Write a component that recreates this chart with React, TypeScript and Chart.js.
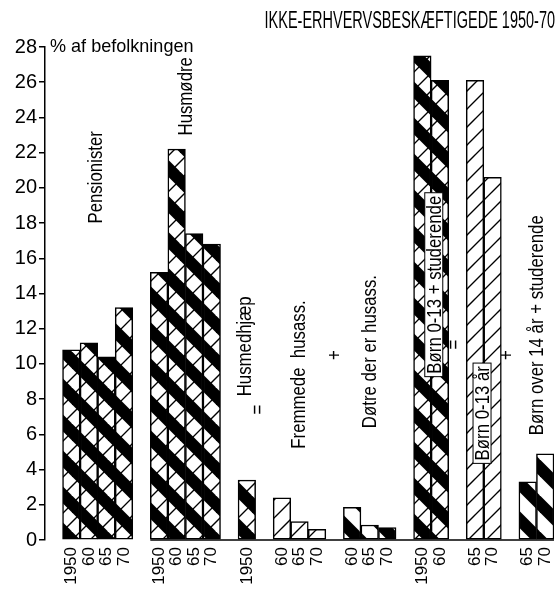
import React, { useEffect, useRef } from "react";
import { Chart, registerables } from "chart.js";

Chart.register(...registerables);

// ---------- data ----------
const TITLE = "IKKE-ERHVERVSBESKÆFTIGEDE 1950-70";
const Y_CAPTION = "% af befolkningen";
const Y_MIN = 0;
const Y_MAX = 28;
const Y_STEP = 2;

const pensionisterYears = ["1950", "60", "65", "70"];
const pensionister = [10.8, 11.2, 10.4, 13.2];

const husmoedreYears = ["1950", "60", "65", "70"];
const husmoedre = [15.2, 22.2, 17.4, 16.8];

const husmedhjaelpYears = ["1950"];
const husmedhjaelp = [3.4];

const fremmedeYears = ["60", "65", "70"];
const fremmede = [2.4, 1.05, 0.6];

const doetreYears = ["60", "65", "70"];
const doetre = [1.85, 0.85, 0.7];

const boernStudYears = ["1950", "60"];
const boernStud = [27.5, 26.1];

const boern013Years = ["65", "70"];
const boern013 = [26.1, 20.6];

const boern14Years = ["65", "70"];
const boern14 = [3.3, 4.9];

type PatternKind = "combo" | "slash" | "band";

const groups: { name: string; years: string[]; values: number[]; pattern: PatternKind }[] = [
  { name: "Pensionister", years: pensionisterYears, values: pensionister, pattern: "combo" },
  { name: "Husmødre", years: husmoedreYears, values: husmoedre, pattern: "combo" },
  { name: "Husmedhjæp", years: husmedhjaelpYears, values: husmedhjaelp, pattern: "combo" },
  { name: "Fremmede husass.", years: fremmedeYears, values: fremmede, pattern: "slash" },
  { name: "Døtre der er husass.", years: doetreYears, values: doetre, pattern: "band" },
  { name: "Børn 0-13 + studerende", years: boernStudYears, values: boernStud, pattern: "combo" },
  { name: "Børn 0-13 år", years: boern013Years, values: boern013, pattern: "slash" },
  { name: "Børn over 14 år + studerende", years: boern14Years, values: boern14, pattern: "band" },
];

// annotation texts placed in data space (x = slot index, y = value)
const notes: { text: string; x: number; y: number; box?: boolean }[] = [
  { text: "Pensionister", x: 2.35, y: 20.6 },
  { text: "Husmødre", x: 7.5, y: 25.2 },
  { text: "Husmedhjæp", x: 10.85, y: 11.0 },
  { text: "=", x: 11.6, y: 7.4 },
  { text: "Fremmede  husass.", x: 13.95, y: 9.4 },
  { text: "+", x: 16.0, y: 10.5 },
  { text: "Døtre der er husass.", x: 17.95, y: 10.7 },
  { text: "Børn 0-13 + studerende", x: 21.65, y: 14.5, box: true },
  { text: "=", x: 22.75, y: 11.1 },
  { text: "Børn 0-13 år", x: 24.4, y: 7.2, box: true },
  { text: "+", x: 25.8, y: 10.5 },
  { text: "Børn over 14 år + studerende", x: 27.5, y: 12.2 },
];

const SANS = "'Liberation Sans', Arial, sans-serif";

function makePattern(kind: PatternKind): CanvasPattern {
  const T = 36;
  const c = document.createElement("canvas");
  c.width = T;
  c.height = T;
  const g = c.getContext("2d")!;
  g.fillStyle = "#fff";
  g.fillRect(0, 0, T, T);
  g.strokeStyle = "#000";
  g.lineCap = "butt";
  if (kind !== "slash") {
    g.lineWidth = 17 / Math.SQRT2;
    for (let k = -2; k <= 2; k++) {
      g.beginPath();
      g.moveTo(k * T - 20, -20);
      g.lineTo(k * T + T + 20, T + 20);
      g.stroke();
    }
  }
  if (kind !== "band") {
    g.lineWidth = 1.3;
    for (let k = -1; k <= 5; k++) {
      g.beginPath();
      g.moveTo(k * 18 + 20, -20);
      g.lineTo(k * 18 - T - 20, T + 20);
      g.stroke();
    }
  }
  return g.createPattern(c, "repeat")!;
}

function narrowText(ctx: CanvasRenderingContext2D, text: string, size: number, k: number, align: "center" | "right" | "left") {
  ctx.font = `${size}px ${SANS}`;
  const w = ctx.measureText(text).width * k;
  ctx.save();
  ctx.scale(k, 1);
  ctx.textAlign = align;
  ctx.fillText(text, 0, 0);
  ctx.restore();
  return w;
}

export default function App() {
  const ref = useRef<HTMLCanvasElement>(null);

  useEffect(() => {
    if (!ref.current) return;

    const labels: string[] = [];
    const slotOf: { group: number; value: number }[] = [];
    groups.forEach((gr, gi) => {
      labels.push("");
      slotOf.push({ group: -1, value: 0 });
      gr.years.forEach((yr, i) => {
        labels.push(yr);
        slotOf.push({ group: gi, value: gr.values[i] });
      });
    });
    const firstSlotOfGroup2 = slotOf.findIndex((s) => s.group === 1);

    const datasets = groups.map((gr, gi) => ({
      label: gr.name,
      data: slotOf.map((s) => (s.group === gi ? s.value : null)),
      backgroundColor: makePattern(gr.pattern),
      borderColor: "#000",
      borderWidth: 1.5,
      borderSkipped: false as const,
      grouped: false,
      categoryPercentage: 1,
      barPercentage: 1,
    }));

    const decor = {
      id: "decor",
      afterDatasetsDraw(chart: any) {
        const { ctx, chartArea, scales } = chart;
        const x = scales.x;
        const y = scales.y;
        ctx.save();
        ctx.strokeStyle = "#000";
        ctx.lineWidth = 1.5;
        ctx.beginPath();
        ctx.moveTo(x.getPixelForValue(firstSlotOfGroup2 - 0.5), y.getPixelForValue(0));
        ctx.lineTo(chartArea.right, y.getPixelForValue(0));
        ctx.stroke();

        ctx.fillStyle = "#000";
        ctx.textBaseline = "middle";
        notes.forEach((n) => {
          const px = x.getPixelForValue(n.x);
          const py = y.getPixelForValue(n.y);
          ctx.save();
          ctx.translate(px, py);
          ctx.rotate(-Math.PI / 2);
          const k = 0.8;
          ctx.font = `21px ${SANS}`;
          const w = ctx.measureText(n.text).width * k;
          if (n.box) {
            ctx.fillStyle = "#fff";
            ctx.fillRect(-w / 2 - 3, -9, w + 6, 18);
            ctx.lineWidth = 1;
            ctx.strokeStyle = "#000";
            ctx.strokeRect(-w / 2 - 3, -9, w + 6, 18);
            ctx.fillStyle = "#000";
          }
          ctx.translate(0, 1);
          narrowText(ctx, n.text, 21, k, "center");
          ctx.restore();
        });

        // title
        ctx.save();
        ctx.translate(chart.width - 5, 22);
        narrowText(ctx, TITLE, 23, 0.63, "right");
        ctx.restore();

        // axis caption
        ctx.save();
        ctx.translate(chartArea.left + 5, y.getPixelForValue(Y_MAX));
        narrowText(ctx, Y_CAPTION, 19, 0.95, "left");
        ctx.restore();
        ctx.restore();
      },
    };

    const chart = new Chart(ref.current, {
      type: "bar",
      data: { labels, datasets: datasets as any },
      options: {
        animation: false,
        responsive: false,
        layout: { padding: { top: 47, right: 6, left: 0, bottom: 0 } },
        plugins: {
          legend: { display: false },
          tooltip: { enabled: false },
          title: { display: false },
        },
        scales: {
          x: {
            type: "category",
            offset: true,
            grid: { display: false, drawTicks: false },
            border: { display: false },
            ticks: {
              autoSkip: false,
              minRotation: 90,
              maxRotation: 90,
              padding: 7,
              color: "#000",
              font: { family: SANS, size: 17 },
            },
            afterFit: (s: any) => {
              s.height = 49;
              s.paddingLeft = 0;
              s.paddingRight = 0;
            },
          },
          y: {
            min: Y_MIN,
            max: Y_MAX,
            ticks: {
              stepSize: Y_STEP,
              padding: 2,
              color: "#000",
              font: { family: SANS, size: 20 },
            },
            grid: {
              drawOnChartArea: false,
              drawTicks: true,
              tickLength: 6,
              color: "#000",
              lineWidth: 1.5,
            },
            border: { display: true, color: "#000", width: 1.5 },
            afterFit: (s: any) => {
              s.width = 45;
            },
          },
        },
      },
      plugins: [decor],
    });

    return () => chart.destroy();
  }, []);

  return (
    <div style={{ position: "fixed", left: 0, top: 0, width: 560, height: 589, background: "#fff" }}>
      <canvas ref={ref} width={560} height={589} />
    </div>
  );
}
